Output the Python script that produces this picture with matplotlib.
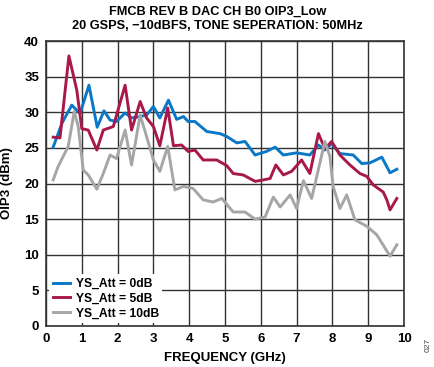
import matplotlib
matplotlib.use("Agg")
import matplotlib.pyplot as plt

plt.rcParams["font.family"] = ["Liberation Sans", "DejaVu Sans"]

title = "FMCB REV B DAC CH B0 OIP3_Low\n20 GSPS, \u221210dBFS, TONE SEPERATION: 50MHz"

blue_x = [0.20, 0.45, 0.72, 0.95, 1.20, 1.43, 1.62, 1.79, 1.97, 2.21, 2.39, 2.63, 2.81, 3.00, 3.18, 3.42, 3.65, 3.84, 3.97, 4.16, 4.49, 4.86, 5.05, 5.33, 5.56, 5.84, 6.16, 6.40, 6.63, 7.00, 7.37, 7.61, 7.79, 7.98, 8.21, 8.58, 8.82, 9.05, 9.38, 9.61, 9.80]
blue_y = [25.1, 28.5, 31.0, 29.8, 33.8, 27.9, 30.2, 28.9, 28.7, 29.9, 29.2, 29.4, 29.6, 30.8, 29.2, 31.7, 29.0, 29.4, 28.7, 28.7, 27.3, 27.0, 26.6, 25.7, 25.9, 24.0, 24.5, 25.1, 24.0, 24.3, 24.0, 25.4, 24.7, 25.6, 24.2, 24.0, 22.8, 22.9, 23.7, 21.5, 22.0]

red_x = [0.20, 0.39, 0.64, 0.86, 1.00, 1.18, 1.42, 1.60, 1.88, 2.21, 2.39, 2.63, 2.81, 3.00, 3.18, 3.40, 3.56, 3.79, 3.97, 4.16, 4.39, 4.77, 5.05, 5.23, 5.51, 5.84, 6.07, 6.26, 6.42, 6.63, 6.86, 7.14, 7.37, 7.61, 7.79, 7.98, 8.21, 8.49, 8.77, 8.96, 9.14, 9.42, 9.52, 9.61, 9.80]
red_y = [26.5, 26.4, 37.9, 33.1, 27.7, 27.5, 24.7, 27.5, 28.0, 33.8, 27.5, 31.5, 29.2, 28.0, 25.3, 30.6, 25.3, 25.4, 24.5, 24.7, 23.3, 23.3, 22.5, 21.4, 21.2, 20.3, 20.5, 20.7, 22.6, 21.2, 21.7, 23.3, 21.4, 27.0, 24.9, 25.9, 24.0, 22.6, 21.4, 21.0, 19.8, 18.8, 17.7, 16.3, 17.9]

gray_x = [0.20, 0.34, 0.48, 0.62, 0.79, 0.90, 1.04, 1.18, 1.42, 1.60, 1.79, 1.97, 2.21, 2.39, 2.63, 2.81, 3.00, 3.18, 3.40, 3.60, 3.84, 4.11, 4.39, 4.67, 4.91, 5.23, 5.56, 5.84, 6.12, 6.35, 6.54, 6.82, 7.00, 7.19, 7.42, 7.79, 7.93, 8.02, 8.21, 8.40, 8.63, 8.96, 9.24, 9.61, 9.80]
gray_y = [20.5, 22.4, 23.8, 25.2, 30.1, 28.0, 21.9, 21.2, 19.2, 21.4, 24.0, 23.5, 27.5, 22.6, 29.6, 26.6, 23.3, 21.7, 25.2, 19.1, 19.6, 19.3, 17.7, 17.4, 17.9, 16.0, 16.0, 15.0, 15.3, 18.1, 16.7, 18.4, 16.5, 20.4, 17.9, 25.9, 23.8, 19.6, 16.5, 18.4, 14.9, 14.0, 12.8, 9.8, 11.4]

labels = ["YS_Att = 0dB", "YS_Att = 5dB", "YS_Att = 10dB"]
colors = ["#0A78C6", "#A8184A", "#A6A6A6"]

fig = plt.figure(figsize=(4.35, 3.67), dpi=100)
ax = fig.add_axes([46/435, 1-326/367, 358/435, 285/367])

for xs, ys, lab, c in zip([blue_x, red_x, gray_x], [blue_y, red_y, gray_y], labels, colors):
    ax.plot(xs, ys, color=c, lw=2.1, label=lab, solid_joinstyle="round")

ax.set_xlim(0, 10)
ax.set_ylim(0, 40)
ax.set_xticks(range(0, 11))
ax.set_yticks(range(0, 41, 5))
ax.grid(True, color="#333333", lw=1.0)
ax.set_axisbelow(True)
ax.tick_params(length=0, labelsize=9.5, pad=5)
for lbl in ax.get_xticklabels() + ax.get_yticklabels():
    lbl.set_fontweight("bold")
for s in ax.spines.values():
    s.set_color("#333333")
    s.set_linewidth(1.2)

ax.set_xlabel("FREQUENCY (GHz)", fontsize=9.5, fontweight="bold", labelpad=5)
ax.set_ylabel("OIP3 (dBm)", fontsize=9.5, fontweight="bold", labelpad=8)
fig.text(0.5, 0.983, title, ha="center", va="top", fontsize=9.2, fontweight="bold", linespacing=1.15)
fig.text(0.985, 0.06, "027", rotation=90, fontsize=6, ha="center", va="center", color="#444444")

leg = ax.legend(loc="lower left", frameon=True, fontsize=8.7, handlelength=1.4,
                bbox_to_anchor=(0.0, 0.0), borderaxespad=0.25, borderpad=0.3,
                labelspacing=0.22, handletextpad=0.5, fancybox=False)
leg.get_frame().set_edgecolor("none")
leg.get_frame().set_facecolor("white")
leg.get_frame().set_alpha(1)
for t in leg.get_texts():
    t.set_fontweight("bold")

fig.savefig("out.png", dpi=100)
